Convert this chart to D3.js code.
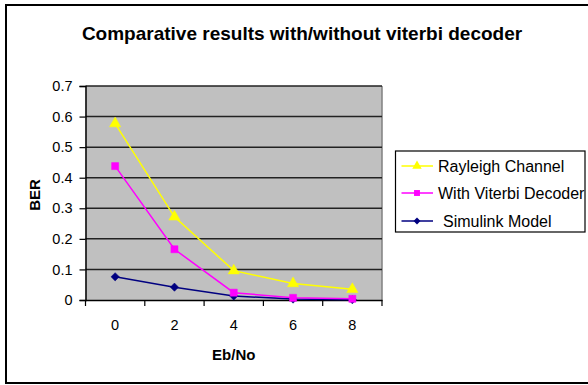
<!DOCTYPE html>
<html><head><meta charset="utf-8">
<script src="https://cdn.jsdelivr.net/npm/d3@7"></script>
<style>body{margin:0;background:#fff}svg{display:block;font-family:"Liberation Sans",Arial,sans-serif}</style>
</head><body><svg id="c" width="588" height="385"></svg>
<script>
const categories = ["0","2","4","6","8"];
const rayleigh = [0.577, 0.272, 0.096, 0.054, 0.035];
const viterbi = [0.438, 0.166, 0.024, 0.007, 0.004];
const simulink = [0.076, 0.042, 0.013, 0.003, 0.001];
const yTicks = [0,0.1,0.2,0.3,0.4,0.5,0.6,0.7];
const seriesNames = ["Rayleigh Channel","With Viterbi Decoder","Simulink Model"];
const seriesColors = ["#FFFF00","#FF00FF","#000080"];
const seriesShapes = [d3.symbolTriangle, d3.symbolSquare, d3.symbolSquare];
const seriesRot = [0, 0, 45];
const seriesSizes = [55, 50, 34];
const seriesData = [rayleigh, viterbi, simulink];

const FONT = "Liberation Sans, Arial, sans-serif";
const svg = d3.select("#c");
svg.append("rect").attr("x",6).attr("y",5).attr("width",590).attr("height",378)
  .attr("fill","#fff").attr("stroke","#000").attr("stroke-width",2);

svg.append("text").attr("x",302).attr("y",40).attr("text-anchor","middle")
  .attr("font-size",19).attr("font-weight","bold").text("Comparative results with/without viterbi decoder");

const L=85.5, R=382, T=86, B=300;
const x = d3.scaleBand().domain(categories).range([L,R]);
const y = d3.scaleLinear().domain([0,0.7]).range([B,T]);

svg.append("rect").attr("x",L).attr("y",T).attr("width",R-L).attr("height",B-T).attr("fill","#C0C0C0");
svg.append("line").attr("x1",R).attr("x2",R).attr("y1",T).attr("y2",B).attr("stroke","#808080").attr("stroke-width",1.5);
svg.append("g").selectAll("line").data(yTicks.slice(1)).join("line")
  .attr("x1",L).attr("x2",R).attr("y1",d=>y(d)).attr("y2",d=>y(d))
  .attr("stroke","#222").attr("stroke-width",1.5);

const yAxis = svg.append("g").attr("transform",`translate(${L},0)`)
  .call(d3.axisLeft(y).tickValues(yTicks).tickFormat(d=>d===0?"0":d3.format(".1f")(d)).tickSize(6).tickPadding(7));
yAxis.select(".domain").attr("stroke","#000").attr("stroke-width",1.5);
yAxis.selectAll(".tick line").attr("stroke-width",1.2);
yAxis.selectAll("text").attr("font-size",14.5).attr("font-family",FONT).attr("fill","#000");

const xAxis = svg.append("g").attr("transform",`translate(0,${B})`)
  .call(d3.axisBottom(x).tickSize(0).tickPadding(20));
xAxis.select(".domain").attr("stroke","#000").attr("stroke-width",1.5);
xAxis.selectAll("text").attr("font-size",14.5).attr("font-family",FONT).attr("fill","#000");
svg.append("g").selectAll("line").data(d3.range(categories.length+1)).join("line")
  .attr("x1",i=>L+i*x.step()).attr("x2",i=>L+i*x.step()).attr("y1",B).attr("y2",B+6)
  .attr("stroke","#000").attr("stroke-width",1.2);

svg.append("text").attr("x",(L+R)/2).attr("y",360).attr("text-anchor","middle")
  .attr("font-size",15).attr("font-weight","bold").text("Eb/No");
svg.append("text").attr("transform","translate(40,195) rotate(-90)").attr("text-anchor","middle")
  .attr("font-size",15).attr("font-weight","bold").text("BER");

const line = d3.line().x((d,i)=>x(categories[i])+x.bandwidth()/2).y(d=>y(d));
[2,1,0].forEach(k=>{
  const g = svg.append("g");
  g.append("path").datum(seriesData[k]).attr("d",line).attr("fill","none")
    .attr("stroke",seriesColors[k]).attr("stroke-width",1.5);
  g.selectAll("path.m").data(seriesData[k]).join("path").attr("class","m")
    .attr("transform",(d,i)=>`translate(${x(categories[i])+x.bandwidth()/2},${y(d)}) rotate(${seriesRot[k]})`)
    .attr("d",d3.symbol().type(seriesShapes[k]).size(seriesSizes[k]))
    .attr("fill",seriesColors[k]).attr("stroke",seriesColors[k]).attr("stroke-width",0.5);
});

const lg = svg.append("g");
lg.append("rect").attr("x",395.5).attr("y",151).attr("width",189.5).attr("height",81)
  .attr("fill","#fff").attr("stroke","#000").attr("stroke-width",1.2);
const rowsY = [166,193,221];
const textX = [438,438,443];
seriesNames.forEach((n,k)=>{
  lg.append("line").attr("x1",401.5).attr("x2",433).attr("y1",rowsY[k]).attr("y2",rowsY[k])
    .attr("stroke",seriesColors[k]).attr("stroke-width",1.5);
  lg.append("path").attr("transform",`translate(417,${rowsY[k]}) rotate(${seriesRot[k]})`)
    .attr("d",d3.symbol().type(seriesShapes[k]).size(seriesSizes[k]*0.7)).attr("fill",seriesColors[k]);
  lg.append("text").attr("x",textX[k]).attr("y",rowsY[k]+5.5).attr("font-size",16).text(n);
});
</script></body></html>
